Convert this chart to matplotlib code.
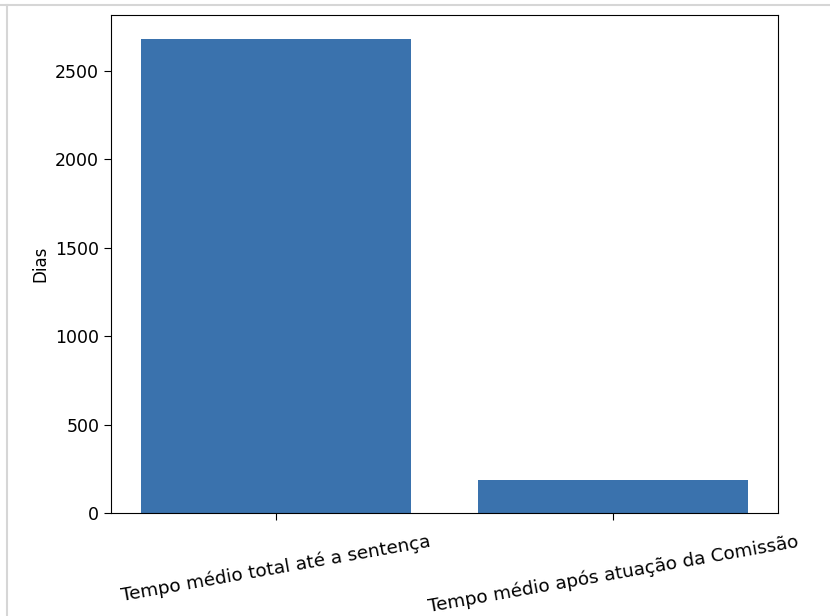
import matplotlib.pyplot as plt
from matplotlib.lines import Line2D

categorias = ["Tempo médio total até a sentença", "Tempo médio após atuação da Comissão"]
dias = [2680, 185]

fig = plt.figure(figsize=(8.3, 6.16), dpi=100)
ax = fig.add_axes([111 / 830, 1 - 513 / 616, (778 - 111) / 830, (513 - 15) / 616])

ax.bar(categorias, dias, color="#3a72ad")
ax.set_ylabel("Dias", fontsize=12)
ax.tick_params(axis="y", labelsize=12.5, length=5)
ax.tick_params(axis="x", labelsize=13.2, length=5, pad=9)
plt.setp(ax.get_xticklabels(), rotation=10)

# moldura cinza clara em volta da figura
fig.add_artist(Line2D([0, 1], [1 - 5 / 616] * 2, color="#d6d6d6", lw=1.5, transform=fig.transFigure))
fig.add_artist(Line2D([7 / 830] * 2, [0, 1 - 5 / 616], color="#d6d6d6", lw=1.5, transform=fig.transFigure))

fig.savefig("out.png", dpi=100)
